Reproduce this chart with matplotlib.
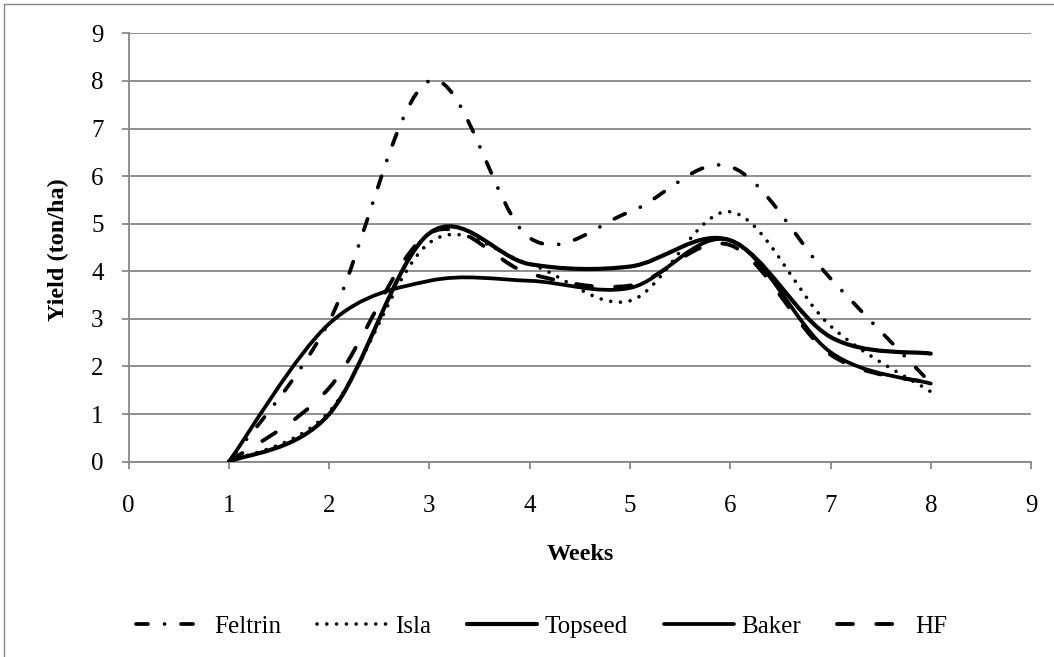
import matplotlib
matplotlib.use("Agg")
import matplotlib.pyplot as plt
from matplotlib.lines import Line2D
from matplotlib.patches import PathPatch
from matplotlib.path import Path

# yield per variety (ton/ha)
weeks = [1, 2, 3, 4, 5, 6, 7, 8]
feltrin = [0, 2.95, 8.0, 4.7, 5.25, 6.2, 3.85, 1.65]
isla = [0, 1.05, 4.6, 4.15, 3.38, 5.25, 2.85, 1.47]
topseed = [0, 1.0, 4.8, 4.15, 4.1, 4.65, 2.62, 2.27]
baker = [0, 2.9, 3.8, 3.8, 3.65, 4.65, 2.3, 1.64]
hf = [0, 1.55, 4.8, 3.95, 3.7, 4.55, 2.25, 1.65]
names = ["Feltrin", "Isla", "Topseed", "Baker", "HF"]

GRID = "#878787"
FONT = "Liberation Serif"

plt.rcParams["font.family"] = FONT


def smooth_path(xs, ys):
    # Excel-like smoothed line: cubic bezier segments through the points
    pts = list(zip(xs, ys))
    n = len(pts)
    verts = [pts[0]]
    codes = [Path.MOVETO]
    for i in range(n - 1):
        p0 = pts[max(i - 1, 0)]
        p1 = pts[i]
        p2 = pts[i + 1]
        p3 = pts[min(i + 2, n - 1)]
        c1 = (p1[0] + (p2[0] - p0[0]) / 6, p1[1] + (p2[1] - p0[1]) / 6)
        c2 = (p2[0] - (p3[0] - p1[0]) / 6, p2[1] - (p3[1] - p1[1]) / 6)
        verts += [c1, c2, p2]
        codes += [Path.CURVE4] * 3
    return Path(verts, codes)


styles = {
    "Feltrin": dict(lw=2.7, ls=(0, (3.2, 4.4, 0.01, 4.4))),
    "Isla": dict(lw=2.6, ls=(0, (0.01, 2.7))),
    "Topseed": dict(lw=3.0, ls="solid"),
    "Baker": dict(lw=2.7, ls="solid"),
    "HF": dict(lw=2.8, ls=(0, (4.1, 6.0))),
}

fig = plt.figure(figsize=(10.54, 6.57), dpi=100)
ax = fig.add_axes([0.1221, 0.2973, 0.8561, 0.652])

series = [feltrin, isla, topseed, baker, hf]
handles = []
for name, ys in zip(names, series):
    st = styles[name]
    patch = PathPatch(smooth_path(weeks, ys), fill=False, edgecolor="black",
                      linewidth=st["lw"], linestyle=st["ls"], zorder=3)
    patch.set_capstyle("round")
    patch.set_joinstyle("round")
    ax.add_patch(patch)
    handles.append(Line2D([], [], color="black", lw=st["lw"], ls=st["ls"],
                          dash_capstyle="round", solid_capstyle="round"))

ax.set_xlim(0, 9)
ax.set_ylim(0, 9)
ax.set_xticks(range(10))
ax.set_yticks(range(10))
ax.yaxis.grid(True, color=GRID, lw=1.3)
ax.set_axisbelow(True)
for s in ["top", "right"]:
    ax.spines[s].set_visible(False)
for s in ["left", "bottom"]:
    ax.spines[s].set_color(GRID)
    ax.spines[s].set_linewidth(1.3)
ax.tick_params(axis="both", colors=GRID, length=5, width=1.3, labelsize=18,
               labelcolor="black", direction="out")
ax.tick_params(axis="x", pad=19)
ax.tick_params(axis="y", pad=13)

ax.set_xlabel("Weeks", fontsize=17.5, fontweight="bold", labelpad=0)
ax.xaxis.set_label_coords(0.5, -0.193)
ax.set_ylabel("Yield (ton/ha)", fontsize=17.5, fontweight="bold")
ax.yaxis.set_label_coords(-0.066, 0.495)

fig.legend(handles, names, loc="center", bbox_to_anchor=(0.514, 0.0457), ncol=5,
           frameon=False, fontsize=18, handlelength=2.8, handletextpad=0.3,
           columnspacing=1.45)

# outer chart border (only top and left edges are in the crop)
fig.add_artist(Line2D([3.5 / 1054, 1], [1 - 3.5 / 657, 1 - 3.5 / 657],
                      transform=fig.transFigure, color=GRID, lw=1.0))
fig.add_artist(Line2D([3.5 / 1054, 3.5 / 1054], [0, 1 - 3.5 / 657],
                      transform=fig.transFigure, color=GRID, lw=1.0))

fig.savefig("out.png", dpi=100)
